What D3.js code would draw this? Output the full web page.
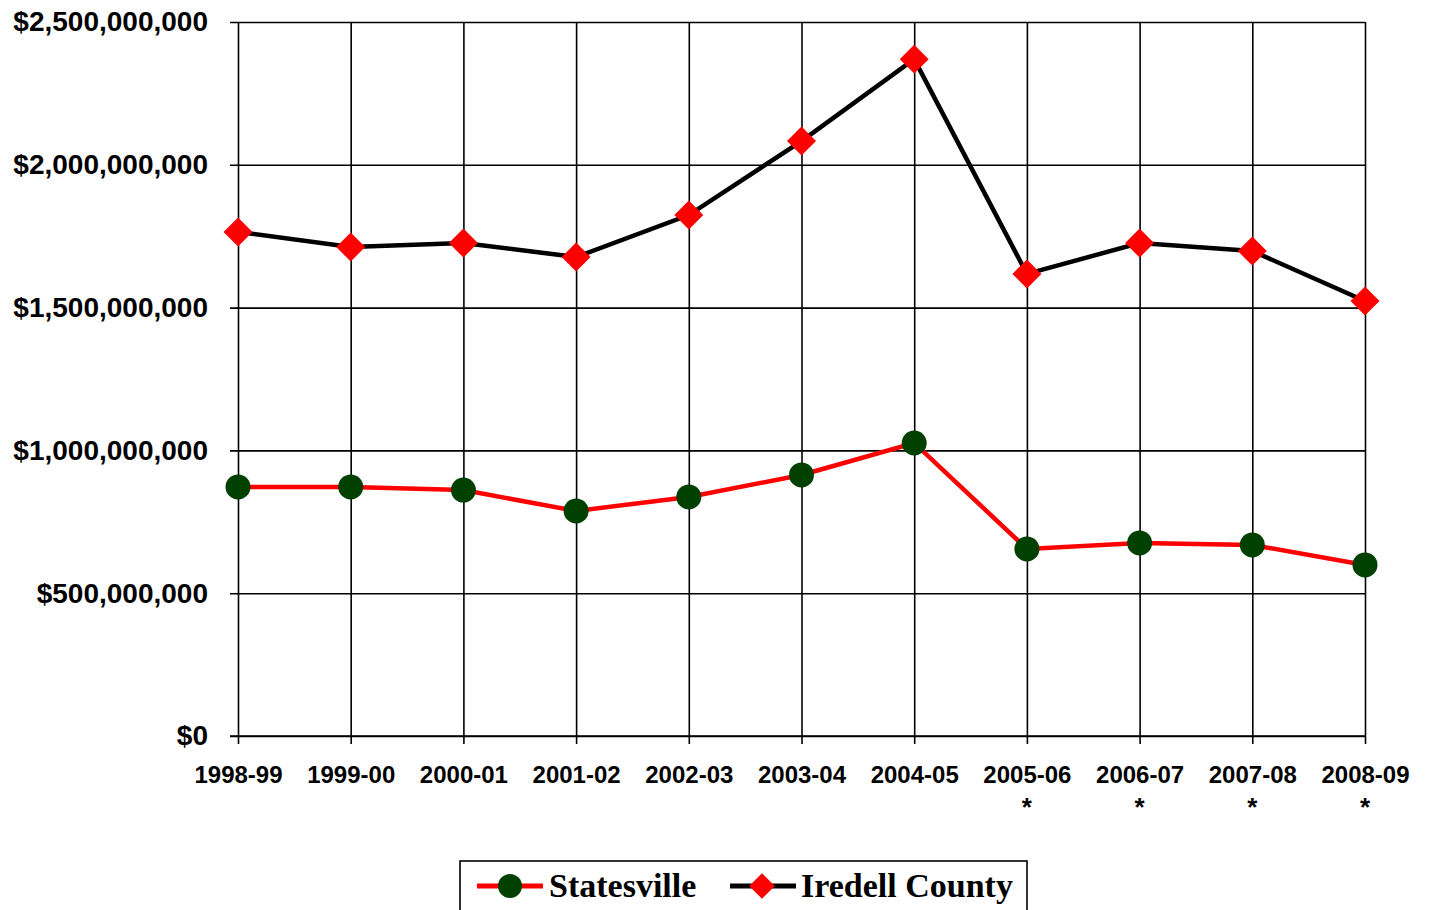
<!DOCTYPE html>
<html>
<head>
<meta charset="utf-8">
<script src="https://cdn.jsdelivr.net/npm/d3@7"></script>
<style>
  body { margin: 0; background: #fff; }
  svg text { font-family: Arial, "Liberation Sans", sans-serif; }
</style>
</head>
<body>
<div id="graph"></div>
<script>
const years = ['1998-99', '1999-00', '2000-01', '2001-02', '2002-03', '2003-04',
  '2004-05', '2005-06', '2006-07', '2007-08', '2008-09']
const starred = ['2005-06', '2006-07', '2007-08', '2008-09']
const statesville = [872e6, 872e6, 861e6, 788e6, 837e6, 914e6, 1026e6, 655e6, 676e6, 669e6, 599e6]
const iredell = [1765e6, 1712e6, 1726e6, 1677e6, 1824e6, 2083e6, 2370e6, 1618e6, 1726e6, 1698e6, 1523e6]
const yTicks = [0, 500e6, 1000e6, 1500e6, 2000e6, 2500e6]

const width = 1430
const height = 910
const margin = {top: 22, right: 65, bottom: 174, left: 238}

const svg = d3.select('#graph')
  .append('svg')
  .attr('width', width)
  .attr('height', height)

const x = d3.scalePoint()
  .domain(years)
  .range([margin.left, width - margin.right])

const y = d3.scaleLinear()
  .domain([0, 2500e6])
  .range([height - margin.bottom, margin.top])

const fmt = d => '$' + d3.format(',')(d)

// horizontal gridlines + y axis
const yAxis = svg.append('g')
  .attr('transform', `translate(${margin.left},0)`)
  .call(d3.axisLeft(y).tickValues(yTicks).tickFormat(fmt)
    .tickSize(-(width - margin.right - margin.left)).tickPadding(30))
yAxis.select('.domain').remove()
yAxis.selectAll('.tick line').attr('stroke', '#000').attr('stroke-width', 1.6).attr('x1', -8)
yAxis.selectAll('.tick text')
  .attr('fill', '#000')
  .style('font-size', '28px')
  .style('font-weight', 'bold')

// vertical gridlines + x axis
const xAxis = svg.append('g')
  .attr('transform', `translate(0,${y(0)})`)
  .call(d3.axisBottom(x).tickSize(8).tickPadding(22))
xAxis.select('.domain').remove()
xAxis.selectAll('.tick line')
  .attr('stroke', '#000').attr('stroke-width', 1.6)
  .attr('y1', -(y(0) - margin.top))
xAxis.selectAll('.tick text')
  .attr('fill', '#000')
  .style('font-size', '24px')
  .style('font-weight', 'bold')

svg.append('line')
  .attr('x1', margin.left - 8).attr('x2', width - margin.right)
  .attr('y1', y(0)).attr('y2', y(0))
  .attr('stroke', '#000').attr('stroke-width', 1.6)

svg.append('g').selectAll('text')
  .data(starred)
  .join('text')
  .attr('x', d => x(d))
  .attr('y', 816)
  .attr('text-anchor', 'middle')
  .style('font-size', '26px')
  .style('font-weight', 'bold')
  .text('*')

const line = d3.line()
  .x((d, i) => x(years[i]))
  .y(d => y(d))

svg.append('path')
  .datum(iredell)
  .attr('d', line)
  .attr('fill', 'none')
  .attr('stroke', '#000')
  .attr('stroke-width', 4.5)

svg.append('path')
  .datum(statesville)
  .attr('d', line)
  .attr('fill', 'none')
  .attr('stroke', '#ff0000')
  .attr('stroke-width', 4.5)

const diamond = d3.symbol().type(d3.symbolSquare).size(420)

svg.append('g').selectAll('path')
  .data(iredell)
  .join('path')
  .attr('d', diamond)
  .attr('transform', (d, i) => `translate(${x(years[i])},${y(d)}) rotate(45)`)
  .attr('fill', '#ff0000')

svg.append('g').selectAll('circle')
  .data(statesville)
  .join('circle')
  .attr('cx', (d, i) => x(years[i]))
  .attr('cy', d => y(d))
  .attr('r', 12.5)
  .attr('fill', '#004000')

// legend
const legend = svg.append('g')
legend.append('rect')
  .attr('x', 460).attr('y', 861)
  .attr('width', 567).attr('height', 70)
  .attr('fill', '#fff')
  .attr('stroke', '#000')
  .attr('stroke-width', 1.6)

const legendFont = '"Liberation Serif", "DejaVu Serif", serif'

const lg1 = legend.append('g').attr('transform', 'translate(477,886)')
lg1.append('line').attr('x1', 0).attr('x2', 66).attr('stroke', '#ff0000').attr('stroke-width', 5)
lg1.append('circle').attr('cx', 33).attr('r', 12).attr('fill', '#004000')
lg1.append('text').attr('x', 72).attr('y', 11)
  .style('font-family', legendFont)
  .style('font-size', '34px').style('font-weight', 'bold')
  .text('Statesville')

const lg2 = legend.append('g').attr('transform', 'translate(730,886)')
lg2.append('line').attr('x1', 0).attr('x2', 66).attr('stroke', '#000').attr('stroke-width', 5)
lg2.append('path').attr('d', d3.symbol().type(d3.symbolSquare).size(330))
  .attr('transform', 'translate(32,0) rotate(45)').attr('fill', '#ff0000')
lg2.append('text').attr('x', 71).attr('y', 11)
  .style('font-family', legendFont)
  .style('font-size', '34px').style('font-weight', 'bold')
  .text('Iredell County')
</script>
</body>
</html>
